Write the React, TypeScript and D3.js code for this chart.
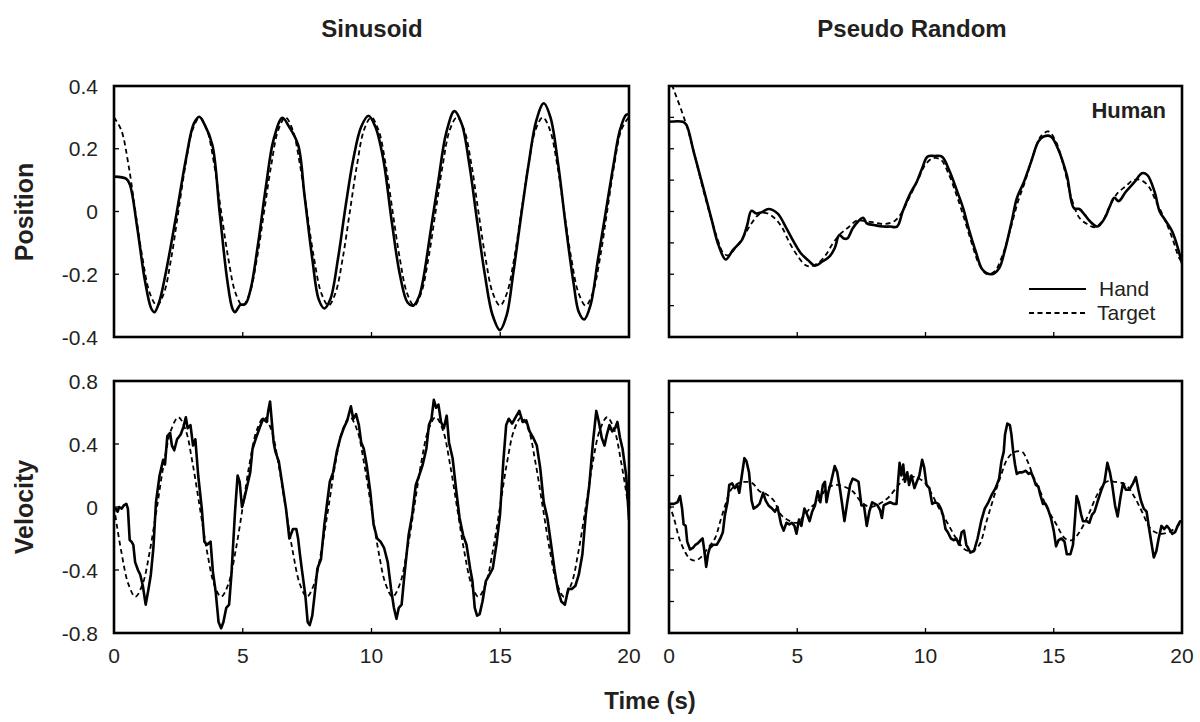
import React from 'react';
import * as d3 from 'd3';

type P = [number, number];

// ---------- tick values / labels ----------
const timeTicks = [0, 5, 10, 15, 20];
const timeInnerTicks = [5, 10, 15];
const posTicks = [0.4, 0.2, 0, -0.2, -0.4];
const posTickLabels = ['0.4', '0.2', '0', '-0.2', '-0.4'];
const velTicks = [0.8, 0.4, 0, -0.4, -0.8];
const velTickLabels = ['0.8', '0.4', '0', '-0.4', '-0.8'];
const posMinorTicks = [0.3, 0.2, 0.1, 0, -0.1, -0.2, -0.3];
const velMinorTicks = [0.6, 0.4, 0.2, 0, -0.2, -0.4, -0.6];
const columnTitles = ['Sinusoid', 'Pseudo Random'];
const rowTitles = ['Position', 'Velocity'];
const legendLabels = ['Hand', 'Target'];

// ---------- Sinusoid: position ----------
const sinHandPos: P[] = [
  [0, 0.111], [0.48, 0.104], [0.62, 0.085], [0.9, -0.05], [1.2, -0.22], [1.45, -0.31], [1.57, -0.321], [1.75, -0.29],
  [2.0, -0.2], [2.4, -0.02], [2.8, 0.17], [3.1, 0.28], [3.31, 0.302], [3.5, 0.28], [3.82, 0.212], [4.1, 0.0],
  [4.4, -0.22], [4.6, -0.31], [4.7, -0.321], [4.8, -0.31], [4.9, -0.298], [5.1, -0.295], [5.3, -0.25], [5.6, -0.1],
  [5.9, 0.08], [6.2, 0.23], [6.54, 0.299], [6.8, 0.27], [7.15, 0.212], [7.4, 0.05], [7.7, -0.15], [7.95, -0.28],
  [8.17, -0.309], [8.4, -0.28], [8.7, -0.15], [9.0, 0.02], [9.3, 0.17], [9.6, 0.27], [9.88, 0.305], [10.15, 0.27],
  [10.45, 0.17], [10.8, -0.04], [11.1, -0.2], [11.4, -0.29], [11.62, -0.3], [11.85, -0.27], [12.0, -0.22], [12.3, -0.06],
  [12.6, 0.1], [12.9, 0.25], [13.22, 0.32], [13.5, 0.28], [13.8, 0.15], [14.1, -0.03], [14.4, -0.2], [14.7, -0.33],
  [14.99, -0.378], [15.25, -0.33], [15.5, -0.2], [15.8, -0.02], [16.1, 0.15], [16.4, 0.29], [16.69, 0.345], [16.95, 0.3],
  [17.25, 0.15], [17.55, -0.05], [17.85, -0.23], [18.05, -0.32], [18.26, -0.344], [18.5, -0.3], [18.8, -0.15], [19.1, 0.0],
  [19.4, 0.15], [19.65, 0.26], [19.89, 0.308], [20.0, 0.31],
];
const sinTargetPos: P[] = [
  [0, 0.3], [0.28, 0.26], [0.56, 0.15], [0.83, 0], [1.11, -0.15], [1.39, -0.26], [1.67, -0.3], [1.94, -0.26], [2.22, -0.15], [2.5, 0], [2.78, 0.15], [3.05, 0.26],
  [3.33, 0.3], [3.61, 0.26], [3.89, 0.15], [4.16, 0], [4.44, -0.15], [4.72, -0.26], [5.0, -0.3], [5.27, -0.26], [5.55, -0.15], [5.83, 0], [6.11, 0.15], [6.38, 0.26],
  [6.66, 0.3], [6.94, 0.26], [7.22, 0.15], [7.49, 0], [7.77, -0.15], [8.05, -0.26], [8.33, -0.3], [8.6, -0.26], [8.88, -0.15], [9.16, 0], [9.44, 0.15], [9.71, 0.26],
  [9.99, 0.3], [10.27, 0.26], [10.55, 0.15], [10.82, 0], [11.1, -0.15], [11.38, -0.26], [11.66, -0.3], [11.93, -0.26], [12.21, -0.15], [12.49, 0], [12.77, 0.15], [13.04, 0.26],
  [13.32, 0.3], [13.6, 0.26], [13.88, 0.15], [14.15, 0], [14.43, -0.15], [14.71, -0.26], [14.99, -0.3], [15.26, -0.26], [15.54, -0.15], [15.82, 0], [16.1, 0.15], [16.37, 0.26],
  [16.65, 0.3], [16.93, 0.26], [17.21, 0.15], [17.48, 0], [17.76, -0.15], [18.04, -0.26], [18.32, -0.3], [18.59, -0.26], [18.87, -0.15], [19.15, 0], [19.43, 0.15], [19.7, 0.26], [19.98, 0.3],
];

// ---------- Sinusoid: velocity ----------
const sinHandVel: P[] = [
  [0, -0.01], [0.07, -0.01], [0.14, -0.03], [0.2, 0.0], [0.3, -0.01], [0.38, 0.01], [0.48, 0.02], [0.54, -0.01], [0.61, -0.21], [0.68, -0.22],
  [0.75, -0.24], [0.82, -0.35], [0.93, -0.4], [1.02, -0.43], [1.12, -0.5], [1.23, -0.62], [1.34, -0.52], [1.43, -0.43], [1.53, -0.26], [1.63, 0.03],
  [1.77, 0.2], [1.91, 0.3], [1.98, 0.27], [2.07, 0.45], [2.18, 0.47], [2.25, 0.39], [2.34, 0.36], [2.45, 0.43], [2.59, 0.46], [2.7, 0.51],
  [2.79, 0.57], [2.86, 0.5], [2.97, 0.52], [3.07, 0.39], [3.16, 0.43], [3.27, 0.2], [3.41, -0.01], [3.51, -0.22], [3.61, -0.24], [3.75, -0.22],
  [3.84, -0.41], [3.95, -0.54], [4.06, -0.73], [4.16, -0.77], [4.25, -0.73], [4.36, -0.64], [4.47, -0.62], [4.56, -0.43], [4.7, -0.03], [4.8, 0.2],
  [4.88, 0.16], [4.97, 0.0], [5.07, 0.06], [5.18, 0.14], [5.29, 0.22], [5.38, 0.37], [5.52, 0.44], [5.65, 0.5], [5.79, 0.56], [5.93, 0.54],
  [5.99, 0.61], [6.06, 0.67], [6.13, 0.54], [6.2, 0.41], [6.27, 0.35], [6.4, 0.29], [6.54, 0.14], [6.68, -0.01], [6.81, -0.2], [6.95, -0.14],
  [7.08, -0.14], [7.15, -0.2], [7.22, -0.3], [7.29, -0.39], [7.43, -0.56], [7.52, -0.73], [7.6, -0.75], [7.7, -0.69], [7.79, -0.56], [7.9, -0.39],
  [8.04, -0.33], [8.17, -0.11], [8.28, 0.03], [8.38, 0.16], [8.51, 0.22], [8.65, 0.35], [8.79, 0.44], [8.92, 0.5], [9.06, 0.55], [9.2, 0.64],
  [9.29, 0.56], [9.4, 0.59], [9.51, 0.52], [9.6, 0.41], [9.7, 0.37], [9.81, 0.27], [9.95, 0.1], [10.08, -0.11], [10.22, -0.2], [10.35, -0.22],
  [10.49, -0.26], [10.63, -0.35], [10.76, -0.52], [10.87, -0.64], [10.97, -0.71], [11.06, -0.64], [11.17, -0.62], [11.28, -0.43], [11.44, -0.18], [11.58, -0.05],
  [11.72, 0.14], [11.85, 0.2], [11.99, 0.27], [12.13, 0.37], [12.23, 0.52], [12.33, 0.56], [12.42, 0.68], [12.51, 0.63], [12.6, 0.65], [12.7, 0.54],
  [12.81, 0.5], [12.92, 0.58], [13.01, 0.41], [13.15, 0.31], [13.28, 0.12], [13.42, -0.07], [13.56, -0.18], [13.69, -0.24], [13.83, -0.39], [13.92, -0.47],
  [14.01, -0.64], [14.1, -0.69], [14.2, -0.68], [14.31, -0.6], [14.44, -0.47], [14.58, -0.43], [14.71, -0.39], [14.85, -0.24], [14.99, -0.05], [15.12, 0.29],
  [15.23, 0.52], [15.33, 0.56], [15.46, 0.53], [15.6, 0.57], [15.74, 0.61], [15.87, 0.54], [16.01, 0.55], [16.14, 0.48], [16.28, 0.44], [16.42, 0.39],
  [16.55, 0.25], [16.69, 0.03], [16.83, -0.07], [16.96, -0.22], [17.1, -0.39], [17.23, -0.52], [17.37, -0.6], [17.51, -0.62], [17.64, -0.52], [17.78, -0.52],
  [17.92, -0.5], [18.05, -0.43], [18.19, -0.3], [18.32, -0.05], [18.46, 0.14], [18.6, 0.41], [18.73, 0.61], [18.83, 0.54], [18.94, 0.44], [19.05, 0.39],
  [19.14, 0.46], [19.24, 0.52], [19.35, 0.48], [19.46, 0.5], [19.55, 0.54], [19.65, 0.44], [19.75, 0.37], [19.89, 0.2], [20.0, -0.08],
];
const sinTargetVel: P[] = [
  [0, 0], [0.28, -0.28], [0.56, -0.49], [0.83, -0.57], [1.11, -0.49], [1.39, -0.28], [1.67, 0], [1.94, 0.28], [2.22, 0.49], [2.5, 0.57], [2.78, 0.49], [3.05, 0.28],
  [3.33, 0], [3.61, -0.28], [3.89, -0.49], [4.16, -0.57], [4.44, -0.49], [4.72, -0.28], [5.0, 0], [5.27, 0.28], [5.55, 0.49], [5.83, 0.57], [6.11, 0.49], [6.38, 0.28],
  [6.66, 0], [6.94, -0.28], [7.22, -0.49], [7.49, -0.57], [7.77, -0.49], [8.05, -0.28], [8.33, 0], [8.6, 0.28], [8.88, 0.49], [9.16, 0.57], [9.44, 0.49], [9.71, 0.28],
  [9.99, 0], [10.27, -0.28], [10.55, -0.49], [10.82, -0.57], [11.1, -0.49], [11.38, -0.28], [11.66, 0], [11.93, 0.28], [12.21, 0.49], [12.49, 0.57], [12.77, 0.49], [13.04, 0.28],
  [13.32, 0], [13.6, -0.28], [13.88, -0.49], [14.15, -0.57], [14.43, -0.49], [14.71, -0.28], [14.99, 0], [15.26, 0.28], [15.54, 0.49], [15.82, 0.57], [16.1, 0.49], [16.37, 0.28],
  [16.65, 0], [16.93, -0.28], [17.21, -0.49], [17.48, -0.57], [17.76, -0.49], [18.04, -0.28], [18.32, 0], [18.59, 0.28], [18.87, 0.49], [19.15, 0.57], [19.43, 0.49], [19.7, 0.28], [19.98, 0],
];

// ---------- Pseudo random: position ----------
const prHandPos: P[] = [
  [0, 0.286], [0.54, 0.286], [0.68, 0.276], [0.96, 0.191], [1.31, 0.084], [1.65, -0.022], [1.93, -0.107], [2.21, -0.153],
  [2.49, -0.123], [2.84, -0.091], [3.05, -0.043], [3.21, 0.002], [3.4, -0.006], [3.6, -0.003], [3.88, 0.008], [4.23, -0.006],
  [4.58, -0.054], [4.86, -0.096], [5.14, -0.133], [5.42, -0.155], [5.69, -0.173], [5.97, -0.16], [6.25, -0.144], [6.46, -0.117],
  [6.64, -0.075], [6.81, -0.086], [6.95, -0.086], [7.16, -0.054], [7.37, -0.032], [7.57, -0.02], [7.71, -0.038], [7.99, -0.043],
  [8.34, -0.048], [8.62, -0.048], [8.89, -0.048], [9.11, 0.0], [9.38, 0.053], [9.66, 0.095], [9.87, 0.138], [10.08, 0.175],
  [10.36, 0.177], [10.64, 0.175], [10.92, 0.132], [11.19, 0.074], [11.47, 0.01], [11.68, -0.054], [11.96, -0.128], [12.24, -0.187],
  [12.59, -0.2], [12.87, -0.181], [13.08, -0.128], [13.36, -0.032], [13.56, 0.042], [13.84, 0.095], [14.12, 0.159], [14.4, 0.223],
  [14.61, 0.239], [14.89, 0.239], [15.16, 0.201], [15.51, 0.116], [15.79, 0.01], [16.0, 0.008], [16.21, -0.011], [16.42, -0.032],
  [16.7, -0.048], [16.98, -0.022], [17.18, 0.015], [17.36, 0.044], [17.53, 0.033], [17.81, 0.063], [18.16, 0.095], [18.44, 0.122],
  [18.65, 0.116], [18.93, 0.063], [19.13, 0.0], [19.34, -0.027], [19.62, -0.064], [20.0, -0.165],
];
const prTargetPos: P[] = [
  [0, 0.43], [0.2, 0.385], [0.45, 0.33], [0.7, 0.27], [1.0, 0.18], [1.3, 0.08], [1.6, -0.01], [1.9, -0.09], [2.1, -0.13], [2.3, -0.14],
  [2.6, -0.115], [2.9, -0.08], [3.2, -0.04], [3.5, -0.01], [3.8, -0.005], [4.1, -0.02], [4.4, -0.05], [4.7, -0.1], [5.0, -0.14], [5.3, -0.17],
  [5.5, -0.175], [5.8, -0.165], [6.1, -0.14], [6.4, -0.1], [6.7, -0.07], [7.0, -0.05], [7.3, -0.03], [7.6, -0.03], [8.0, -0.035], [8.4, -0.04],
  [8.8, -0.03], [9.1, 0.0], [9.4, 0.05], [9.7, 0.1], [10.0, 0.15], [10.3, 0.17], [10.6, 0.165], [10.9, 0.12], [11.2, 0.055], [11.5, -0.02],
  [11.8, -0.1], [12.1, -0.17], [12.4, -0.2], [12.7, -0.19], [13.0, -0.14], [13.3, -0.06], [13.6, 0.03], [13.9, 0.1], [14.2, 0.18], [14.5, 0.24],
  [14.8, 0.255], [15.1, 0.22], [15.4, 0.14], [15.7, 0.04], [16.0, -0.02], [16.3, -0.04], [16.6, -0.05], [16.9, -0.03], [17.2, 0.02], [17.5, 0.06],
  [17.8, 0.08], [18.1, 0.1], [18.4, 0.1], [18.7, 0.08], [19.0, 0.03], [19.3, -0.02], [19.6, -0.08], [19.9, -0.15], [20.0, -0.16],
];

// ---------- Pseudo random: velocity ----------
const prHandVel: P[] = [
  [0, 0.02], [0.05, 0.02], [0.19, 0.02], [0.33, 0.03], [0.43, 0.07], [0.51, -0.01], [0.57, -0.11], [0.65, -0.12], [0.71, -0.22], [0.82, -0.27],
  [0.93, -0.26], [1.03, -0.24], [1.13, -0.23], [1.24, -0.21], [1.31, -0.2], [1.38, -0.28], [1.45, -0.38], [1.52, -0.3], [1.59, -0.26], [1.72, -0.24],
  [1.86, -0.24], [2.0, -0.2], [2.1, -0.16], [2.18, -0.05], [2.28, 0.03], [2.35, 0.14], [2.46, 0.15], [2.56, 0.12], [2.66, 0.14], [2.74, 0.09],
  [2.84, 0.2], [2.94, 0.31], [3.02, 0.29], [3.12, 0.22], [3.22, 0.04], [3.3, -0.01], [3.4, 0.0], [3.53, 0.02], [3.67, 0.09], [3.77, 0.04],
  [3.88, 0.01], [4.02, -0.01], [4.13, -0.03], [4.23, 0.0], [4.37, -0.11], [4.47, -0.15], [4.58, -0.1], [4.69, -0.11], [4.79, -0.1], [4.89, -0.12],
  [4.97, -0.17], [5.07, -0.08], [5.16, -0.12], [5.28, -0.01], [5.39, -0.05], [5.48, -0.09], [5.58, -0.03], [5.69, 0.01], [5.8, 0.1], [5.9, 0.03],
  [6.0, 0.14], [6.08, 0.16], [6.14, 0.03], [6.22, 0.1], [6.32, 0.16], [6.46, 0.26], [6.56, 0.22], [6.67, 0.11], [6.74, 0.03], [6.84, -0.09],
  [6.95, 0.03], [7.06, 0.14], [7.16, 0.18], [7.3, 0.17], [7.39, 0.16], [7.5, 0.01], [7.6, 0.01], [7.71, -0.12], [7.81, -0.03], [7.92, 0.03],
  [8.03, 0.02], [8.13, 0.01], [8.23, -0.02], [8.3, -0.07], [8.37, 0.01], [8.48, 0.02], [8.62, 0.03], [8.76, 0.02], [8.87, 0.02], [8.93, 0.16],
  [8.99, 0.28], [9.06, 0.2], [9.13, 0.27], [9.2, 0.16], [9.29, 0.22], [9.36, 0.14], [9.45, 0.2], [9.57, 0.12], [9.66, 0.16], [9.76, 0.2],
  [9.87, 0.3], [9.95, 0.25], [10.04, 0.14], [10.15, 0.12], [10.26, 0.02], [10.37, 0.03], [10.5, 0.02], [10.6, -0.01], [10.68, -0.05], [10.78, -0.14],
  [10.87, -0.16], [10.99, -0.2], [11.1, -0.21], [11.2, -0.2], [11.31, -0.24], [11.41, -0.16], [11.5, -0.15], [11.59, -0.24], [11.66, -0.26], [11.75, -0.29],
  [11.89, -0.28], [12.03, -0.2], [12.17, -0.09], [12.31, -0.01], [12.45, 0.03], [12.59, 0.08], [12.73, 0.12], [12.87, 0.18], [12.96, 0.29], [13.05, 0.35],
  [13.1, 0.46], [13.19, 0.53], [13.29, 0.52], [13.35, 0.46], [13.42, 0.35], [13.49, 0.27], [13.56, 0.21], [13.66, 0.22], [13.77, 0.22], [13.91, 0.23],
  [14.02, 0.21], [14.12, 0.22], [14.22, 0.18], [14.3, 0.14], [14.4, 0.13], [14.47, 0.08], [14.58, 0.02], [14.68, 0.02], [14.77, -0.01], [14.89, -0.07],
  [15.0, -0.15], [15.09, -0.25], [15.19, -0.21], [15.3, -0.2], [15.42, -0.22], [15.51, -0.3], [15.65, -0.3], [15.75, -0.24], [15.83, -0.07], [15.89, 0.07],
  [15.97, 0.03], [16.07, -0.05], [16.14, -0.09], [16.28, -0.09], [16.39, -0.1], [16.49, -0.05], [16.59, -0.03], [16.7, 0.03], [16.84, 0.1], [16.98, 0.16],
  [17.09, 0.28], [17.19, 0.22], [17.28, 0.14], [17.39, 0.01], [17.49, -0.06], [17.6, 0.06], [17.7, 0.15], [17.81, 0.11], [17.95, 0.11], [18.09, 0.15],
  [18.2, 0.19], [18.3, 0.11], [18.4, 0.04], [18.51, -0.01], [18.62, -0.03], [18.72, -0.14], [18.81, -0.23], [18.9, -0.32], [19.0, -0.28], [19.09, -0.2],
  [19.2, -0.12], [19.31, -0.14], [19.41, -0.12], [19.51, -0.14], [19.62, -0.17], [19.73, -0.16], [19.83, -0.12], [19.93, -0.09], [20.0, -0.09],
];
const prTargetVel: P[] = [
  [0, 0.02], [0.19, -0.07], [0.4, -0.2], [0.61, -0.28], [0.82, -0.33], [1.03, -0.34], [1.24, -0.32], [1.52, -0.26], [1.79, -0.2], [2.0, -0.09],
  [2.21, 0.02], [2.42, 0.11], [2.7, 0.15], [2.98, 0.16], [3.26, 0.15], [3.53, 0.1], [3.81, 0.08], [4.09, 0.04], [4.37, -0.05], [4.72, -0.09],
  [5.0, -0.1], [5.28, -0.05], [5.55, 0.0], [5.83, 0.04], [6.11, 0.11], [6.46, 0.14], [6.81, 0.13], [7.16, 0.1], [7.51, 0.03], [7.85, 0.0],
  [8.2, 0.02], [8.55, 0.06], [8.9, 0.13], [9.25, 0.19], [9.59, 0.19], [9.94, 0.16], [10.22, 0.09], [10.5, 0.0], [10.85, -0.1], [11.2, -0.2],
  [11.54, -0.27], [11.82, -0.28], [12.1, -0.24], [12.38, -0.09], [12.66, 0.06], [12.94, 0.2], [13.21, 0.31], [13.49, 0.35], [13.77, 0.35], [13.98, 0.29],
  [14.19, 0.2], [14.47, 0.1], [14.75, -0.01], [15.1, -0.11], [15.44, -0.2], [15.72, -0.21], [16.0, -0.16], [16.35, -0.05], [16.7, 0.08], [17.05, 0.16],
  [17.39, 0.16], [17.81, 0.14], [18.16, 0.06], [18.44, -0.03], [18.79, -0.14], [19.13, -0.17], [19.48, -0.16], [19.83, -0.12], [20.0, -0.09],
];

// ---------- layout ----------
const FONT = '"Liberation Sans", Arial, Helvetica, sans-serif';
const INK = '#231f20';
const COL_X: [number, number][] = [[114, 629], [669, 1182]];
const ROW_Y: [number, number][] = [[86, 337], [381, 633]];

type PanelProps = {
  id: string;
  xr: [number, number];
  yr: [number, number];
  yDomain: [number, number];
  tickVals: number[];
  labels?: string[];
  labelVals?: number[];
  showX: boolean;
  hand: P[];
  target: P[];
  handCurve: d3.CurveFactory;
  children?: React.ReactNode;
};

function Panel({ id, xr, yr, yDomain, tickVals, labels, labelVals, showX, hand, target, handCurve, children }: PanelProps) {
  const xs = d3.scaleLinear().domain([0, 20]).range(xr);
  const ys = d3.scaleLinear().domain(yDomain).range([yr[1], yr[0]]);
  const lineHand = d3.line<P>().x((d) => xs(d[0])).y((d) => ys(d[1])).curve(handCurve);
  const lineTarget = d3.line<P>().x((d) => xs(d[0])).y((d) => ys(d[1])).curve(d3.curveCatmullRom);
  const inner = tickVals.filter((v) => v > yDomain[0] + 1e-9 && v < yDomain[1] - 1e-9);
  return (
    <g>
      <defs>
        <clipPath id={id}>
          <rect x={xr[0]} y={yr[0]} width={xr[1] - xr[0]} height={yr[1] - yr[0]} />
        </clipPath>
      </defs>
      <g clipPath={`url(#${id})`}>
        <path d={lineTarget(target) || ''} fill="none" stroke="#000" strokeWidth={1.8} strokeDasharray="5,3.5" />
        <path d={lineHand(hand) || ''} fill="none" stroke="#000" strokeWidth={2.6} strokeLinejoin="round" strokeLinecap="round" />
      </g>
      {inner.map((v) => (
        <line key={'yt' + v} x1={xr[0]} x2={xr[0] + 5} y1={ys(v)} y2={ys(v)} stroke="#000" strokeWidth={1.3} />
      ))}
      {timeInnerTicks.map((t) => (
        <line key={'xt' + t} x1={xs(t)} x2={xs(t)} y1={yr[1]} y2={yr[1] - 5} stroke="#000" strokeWidth={1.3} />
      ))}
      <rect x={xr[0]} y={yr[0]} width={xr[1] - xr[0]} height={yr[1] - yr[0]} fill="none" stroke="#000" strokeWidth={2.6} />
      {labels && labelVals &&
        labelVals.map((v, i) => (
          <text key={'yl' + v} x={xr[0] - 16} y={ys(v)} dy="0.36em" textAnchor="end" fontSize={21} fill={INK} fontFamily={FONT}>
            {labels[i]}
          </text>
        ))}
      {showX &&
        timeTicks.map((t) => (
          <text key={'xl' + t} x={xs(t)} y={yr[1] + 30} textAnchor="middle" fontSize={21} fill={INK} fontFamily={FONT}>
            {t}
          </text>
        ))}
      {children}
    </g>
  );
}

export default function App() {
  const legendX: [number, number] = [1029, 1086];
  return (
    <svg width={1200} height={722} style={{ position: 'absolute', left: 0, top: 0, background: '#fff' }}>
      <rect x={0} y={0} width={1200} height={722} fill="#fff" />
      {/* column titles */}
      <text x={372} y={37} textAnchor="middle" fontSize={24} fontWeight="bold" fill={INK} fontFamily={FONT}>{columnTitles[0]}</text>
      <text x={912} y={37} textAnchor="middle" fontSize={24} fontWeight="bold" fill={INK} fontFamily={FONT}>{columnTitles[1]}</text>
      {/* row titles */}
      <text transform={`translate(33,212) rotate(-90)`} textAnchor="middle" fontSize={25} fontWeight="bold" fill={INK} fontFamily={FONT}>{rowTitles[0]}</text>
      <text transform={`translate(33,507) rotate(-90)`} textAnchor="middle" fontSize={25} fontWeight="bold" fill={INK} fontFamily={FONT}>{rowTitles[1]}</text>

      <Panel id="c1" xr={COL_X[0]} yr={ROW_Y[0]} yDomain={[-0.4, 0.4]} tickVals={posTicks} labels={posTickLabels} labelVals={posTicks}
        showX={false} hand={sinHandPos} target={sinTargetPos} handCurve={d3.curveCatmullRom} />
      <Panel id="c2" xr={COL_X[1]} yr={ROW_Y[0]} yDomain={[-0.4, 0.4]} tickVals={posMinorTicks}
        showX={false} hand={prHandPos} target={prTargetPos} handCurve={d3.curveCatmullRom}>
        <text x={1166} y={118} textAnchor="end" fontSize={22} fontWeight="bold" fill={INK} fontFamily={FONT}>Human</text>
        <line x1={legendX[0]} x2={legendX[1]} y1={289} y2={289} stroke="#000" strokeWidth={2.2} />
        <text x={1099} y={296} fontSize={21} fill={INK} fontFamily={FONT}>{legendLabels[0]}</text>
        <line x1={legendX[0]} x2={legendX[1]} y1={313} y2={313} stroke="#000" strokeWidth={1.8} strokeDasharray="5,3.5" />
        <text x={1097} y={320} fontSize={21} fill={INK} fontFamily={FONT}>{legendLabels[1]}</text>
      </Panel>
      <Panel id="c3" xr={COL_X[0]} yr={ROW_Y[1]} yDomain={[-0.8, 0.8]} tickVals={velTicks} labels={velTickLabels} labelVals={velTicks}
        showX={true} hand={sinHandVel} target={sinTargetVel} handCurve={d3.curveLinear} />
      <Panel id="c4" xr={COL_X[1]} yr={ROW_Y[1]} yDomain={[-0.8, 0.8]} tickVals={velMinorTicks}
        showX={true} hand={prHandVel} target={prTargetVel} handCurve={d3.curveLinear} />

      <text x={650} y={709} textAnchor="middle" fontSize={24} fontWeight="bold" fill={INK} fontFamily={FONT}>Time (s)</text>
    </svg>
  );
}
